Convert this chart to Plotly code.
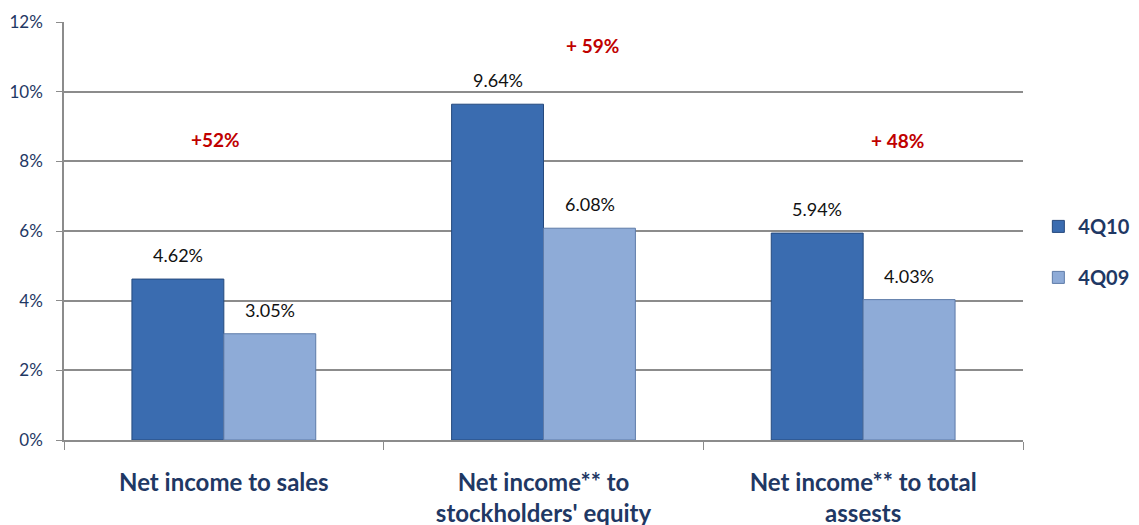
import plotly.graph_objects as go

categories = ["Net income to sales", "Net income** to<br>stockholders' equity", "Net income** to total<br>assests"]
series_4q10 = [4.62, 9.64, 5.94]
series_4q09 = [3.05, 6.08, 4.03]
growth_labels = ["+52%", "+ 59%", "+ 48%"]
growth_y = [8.62, 11.32, 8.59]
growth_xshift = [-8, 49, 34]
y_ticks = [0, 2, 4, 6, 8, 10, 12]
y_tick_text = ["0%", "2%", "4%", "6%", "8%", "10%", "12%"]

navy = "#1F3864"
font_family = "Lato, 'Open Sans', sans-serif"

fig = go.Figure()
fig.add_trace(go.Bar(
    name="<b>4Q10</b>", x=categories, y=series_4q10, legendgroup="a",
    marker=dict(color="#3A6CB0", line=dict(color="#25497D", width=1)),
))
fig.add_trace(go.Bar(
    name="<b>4Q09</b>", x=categories, y=series_4q09, legendgroup="b",
    marker=dict(color="#8EABD7", line=dict(color="#5E7BA8", width=1)),
))

bar_half = 46
for series, side in ((series_4q10, -1), (series_4q09, 1)):
    for c, v in zip(categories, series):
        fig.add_annotation(x=c, y=v, text=f"{v:.2f}%", showarrow=False,
                           xshift=side * bar_half, yshift=24, yanchor="middle",
                           font=dict(size=18, color="#111111", family=font_family))

for c, lab, yy, xs in zip(categories, growth_labels, growth_y, growth_xshift):
    fig.add_annotation(x=c, y=yy, text=f"<b>{lab}</b>", showarrow=False,
                       xshift=xs, yanchor="middle",
                       font=dict(size=19, color="#C00000", family=font_family))

fig.update_layout(
    width=1139, height=525,
    margin=dict(l=64, r=116, t=22, b=85, autoexpand=False),
    paper_bgcolor="white", plot_bgcolor="white",
    barmode="group", bargap=0.425, bargroupgap=0,
    font=dict(family=font_family, color=navy),
    showlegend=True,
    legend=dict(x=1.016, y=0.45, xanchor="left", yanchor="middle",
                font=dict(size=20, color=navy, family=font_family),
                tracegroupgap=22, traceorder="grouped", itemwidth=30),
    xaxis=dict(
        showgrid=False, showline=True, linecolor="#8C8C8C", linewidth=1.5,
        ticks="outside", tickson="boundaries", ticklen=8, tickcolor="#8C8C8C",
        tickfont=dict(size=24, color=navy, family=font_family),
        ticklabelstandoff=20,
        tickvals=categories, ticktext=[f"<b>{c}</b>" for c in categories],
    ),
    yaxis=dict(
        range=[0, 12], tickvals=y_ticks, ticktext=y_tick_text,
        showgrid=True, gridcolor="#8C8C8C", gridwidth=1.5,
        showline=True, linecolor="#8C8C8C", linewidth=1.5,
        ticks="outside", ticklen=6, tickcolor="#8C8C8C",
        tickfont=dict(size=17, color=navy, family=font_family),
        ticklabelstandoff=10,
        zeroline=False,
    ),
)

fig.write_html("out.html")
